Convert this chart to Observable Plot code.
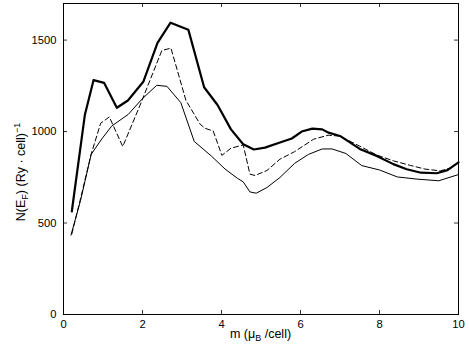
<!DOCTYPE html>
<html><head><meta charset="utf-8">
<script src="https://cdn.jsdelivr.net/npm/d3@7"></script>
<script src="https://cdn.jsdelivr.net/npm/@observablehq/plot@0.6"></script>
<style>
body{margin:0;background:#fff}
svg{font-family:"Liberation Sans",Arial,Helvetica,sans-serif}
</style>
</head><body><div id="chart"></div>
<script>
// Thick solid curve
const thickM = [0.21,0.54,0.76,1.03,1.35,1.63,2.02,2.38,2.71,3.16,3.56,3.90,4.24,4.55,4.82,5.10,5.48,5.78,6.03,6.30,6.55,6.71,7.00,7.50,7.93,8.35,8.69,9.05,9.45,9.72,10.0];
const thickN = [563,1090,1281,1266,1130,1170,1272,1485,1595,1557,1242,1145,1012,931,902,912,940,962,1000,1016,1012,994,976,905,867,822,794,775,772,789,832];
// Dashed curve
const dashM = [0.21,0.45,0.70,0.94,1.16,1.50,1.94,2.49,2.72,3.10,3.46,3.58,3.79,4.01,4.24,4.55,4.72,4.85,5.15,5.48,5.85,6.33,6.70,7.00,7.50,7.93,8.35,8.78,9.15,9.54,9.83,10.0];
const dashN = [440,650,876,1045,1080,918,1145,1443,1456,1170,1040,1018,1003,870,909,927,767,760,787,849,890,958,980,975,920,872,840,815,795,785,803,832];
// Thin solid curve
const thinM = [0.19,0.43,0.70,0.97,1.22,1.64,1.98,2.36,2.62,2.97,3.31,3.75,4.09,4.40,4.55,4.72,4.88,5.15,5.48,5.85,6.20,6.55,6.80,7.15,7.55,8.00,8.45,8.95,9.50,10.0];
const thinN = [434,622,875,960,1030,1094,1176,1253,1247,1158,946,865,795,745,725,670,663,694,749,826,875,905,905,880,814,790,752,740,731,765];

const xTicks = [0,2,4,6,8,10];
const yTicks = [0,500,1000,1500];
const xDomain = [0,10];
const yDomain = [0,1700];

const W = 469, H = 351, mL = 63, mR = 11, mT = 3, mB = 37;
const innerW = W - mL - mR, innerH = H - mT - mB;
const tickLen = 4;

const toRows = (ms, ns) => ms.map((m, i) => ({m, n: ns[i]}));

const plot = Plot.plot({
  width: W, height: H,
  marginLeft: mL, marginRight: mR, marginTop: mT, marginBottom: mB,
  style: {fontSize: "11.2px", fontFamily: "Liberation Sans, Arial, sans-serif", color: "#000", background: "#fff"},
  x: {domain: xDomain, ticks: xTicks, label: null},
  y: {domain: yDomain, ticks: yTicks, label: null},
  marks: [
    Plot.axisX(xTicks, {tickSize: 0, tickPadding: 6, label: null, fill: "#000", tickFormat: d => String(d)}),
    Plot.axisY(yTicks, {tickSize: 0, tickPadding: 7, label: null, fill: "#000", tickFormat: d => String(d)}),
    // inward ticks
    Plot.tickX(xTicks, {x: d => d, insetTop: innerH - tickLen, stroke: "#000", strokeWidth: 0.8}),
    Plot.tickX(xTicks, {x: d => d, insetBottom: innerH - tickLen, stroke: "#000", strokeWidth: 0.8}),
    Plot.tickY(yTicks, {y: d => d, insetRight: innerW - tickLen, stroke: "#000", strokeWidth: 0.8}),
    Plot.tickY(yTicks, {y: d => d, insetLeft: innerW - tickLen, stroke: "#000", strokeWidth: 0.8}),
    Plot.line(toRows(thinM, thinN), {x: "m", y: "n", stroke: "#000", strokeWidth: 1}),
    Plot.line(toRows(dashM, dashN), {x: "m", y: "n", stroke: "#000", strokeWidth: 1, strokeDasharray: "5,3"}),
    Plot.line(toRows(thickM, thickN), {x: "m", y: "n", stroke: "#000", strokeWidth: 2.2}),
    Plot.frame({stroke: "#000", strokeWidth: 1})
  ]
});

const svg = d3.select(plot);
// y label
const yl = svg.append("text")
  .attr("transform", `translate(25,172) rotate(-90)`)
  .attr("text-anchor", "middle")
  .attr("font-size", "12.5px")
  .attr("fill", "#000");
yl.append("tspan").text("N(E");
yl.append("tspan").attr("font-size", "9px").attr("dy", "3").text("F");
yl.append("tspan").attr("dy", "-3").text(") (Ry \u00B7 cell)");
yl.append("tspan").attr("font-size", "9px").attr("dy", "-5").text("\u22121");
// x label
const xl = svg.append("text")
  .attr("x", 260.5).attr("y", 338)
  .attr("text-anchor", "middle")
  .attr("font-size", "12.5px")
  .attr("fill", "#000");
xl.append("tspan").text("m (\u03BC");
xl.append("tspan").attr("font-size", "9px").attr("dy", "3").text("B");
xl.append("tspan").attr("dy", "-3").text(" /cell)");

document.getElementById("chart").appendChild(plot);
</script>
</body></html>
